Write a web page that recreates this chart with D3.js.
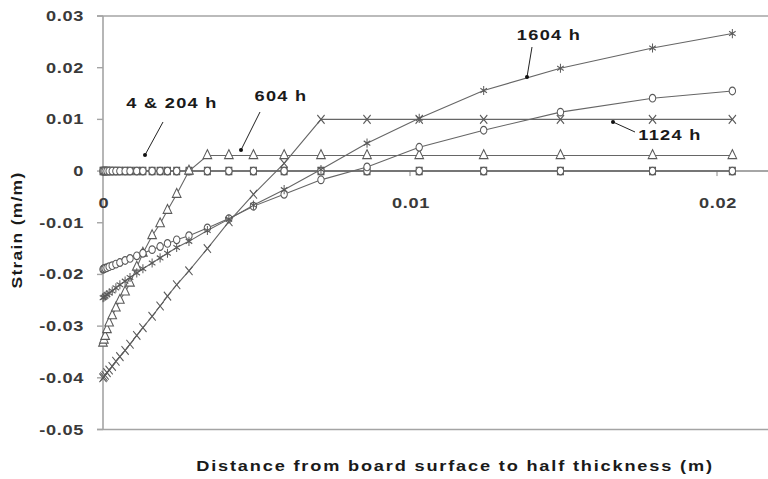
<!DOCTYPE html>
<html>
<head>
<meta charset="utf-8">
<script src="https://cdn.jsdelivr.net/npm/d3@7"></script>
<style>
  body { margin: 0; background: #fff; }
  svg { display: block; font-family: "Liberation Sans", Arial, sans-serif; }
</style>
</head>
<body>
<svg id="chart" width="768" height="479"></svg>
<script>
// mesh nodes, metres from the board surface
const distance = [0, 0.00003, 0.00007, 0.00013, 0.0002, 0.0003, 0.00042, 0.00055, 0.00072, 0.00088,
    0.0011, 0.0013, 0.0016, 0.00186, 0.0021, 0.0024, 0.0028, 0.0034, 0.0041, 0.0049,
    0.0059, 0.0071, 0.0086, 0.0103, 0.0124, 0.0149, 0.0179, 0.0205];

const strain4h = [0, 0, 0, 0, 0, 0, 0, 0, 0, 0, 0, 0, 0, 0, 0, 0, 0, 0, 0, 0, 0, 0, 0, 0, 0, 0, 0, 0];
const strain204h = [0, 0, 0, 0, 0, 0, 0, 0, 0, 0, 0, 0, 0, 0, 0, 0, 0, 0, 0, 0, 0, 0, 0, 0, 0, 0, 0, 0];
const strain604h = [-0.0333, -0.0327, -0.032, -0.0307, -0.0294, -0.028, -0.0265, -0.025, -0.0234, -0.0217,
    -0.0186, -0.0159, -0.0125, -0.0102, -0.0076, -0.0045, 0, 0.003, 0.003, 0.003,
    0.003, 0.003, 0.003, 0.003, 0.003, 0.003, 0.003, 0.003];
const strain1124h = [-0.04, -0.0398, -0.0395, -0.039, -0.0385, -0.0378, -0.0368, -0.0359, -0.0347, -0.0335,
    -0.0318, -0.0303, -0.0281, -0.0261, -0.0242, -0.022, -0.0193, -0.015, -0.0098, -0.0045,
    0.0015, 0.01, 0.01, 0.01, 0.01, 0.01, 0.01, 0.01];
const strain1604h = [-0.0245, -0.0244, -0.0242, -0.0239, -0.0236, -0.0232, -0.0226, -0.022, -0.0213, -0.0206,
    -0.0197, -0.0189, -0.0178, -0.0168, -0.0159, -0.0148, -0.0136, -0.0115, -0.0093, -0.0066,
    -0.0036, 0.0003, 0.0054, 0.0102, 0.0156, 0.0199, 0.0238, 0.0266];
// unlabelled series drawn with open circles
const strainLast = [-0.019, -0.0189, -0.0188, -0.0187, -0.0185, -0.0183, -0.018, -0.0177, -0.0173, -0.0169,
    -0.0164, -0.0159, -0.0152, -0.0146, -0.014, -0.0133, -0.0125, -0.011, -0.0092, -0.0068,
    -0.0045, -0.0017, 0.0008, 0.0046, 0.0079, 0.0114, 0.0141, 0.0155];

const xTickValues = [0, 0.01, 0.02];
const xTickLabels = ["0", "0.01", "0.02"];
const yTickValues = [0.03, 0.02, 0.01, 0, -0.01, -0.02, -0.03, -0.04, -0.05];
const yTickLabels = ["0.03", "0.02", "0.01", "0", "-0.01", "-0.02", "-0.03", "-0.04", "-0.05"];
const noteLabels = ["4 & 204 h", "604 h", "1124 h", "1604 h"];

const svg = d3.select("#chart");
const width = 768;

const x = d3.scaleLinear().domain([0, 0.02]).range([103, 717]);
const y = d3.scaleLinear().domain([-0.05, 0.03]).range([429.5, 16]);

const frame = "#a4a4a4";
const ink = "#5a5a5a";

// the original lettering is wide, so glyphs get stretched along the baseline
function addText(px, py, str, opts) {
    const o = Object.assign({ anchor: "middle", rotate: 0, sx: 1.3, spacing: 0.8, fill: "#1a1a1a" }, opts);
    return svg.append("text")
        .attr("transform", `translate(${px},${py}) rotate(${o.rotate}) scale(${o.sx},1)`)
        .attr("text-anchor", o.anchor)
        .attr("font-size", 14)
        .attr("font-weight", "bold")
        .attr("letter-spacing", o.spacing)
        .attr("fill", o.fill)
        .text(str);
}

// plot frame: top and bottom edges run off the right of the picture
[0.03, -0.05].forEach(v => {
    svg.append("line")
        .attr("x1", x(0) - 6).attr("x2", width)
        .attr("y1", y(v)).attr("y2", y(v))
        .attr("stroke", frame).attr("stroke-width", 1.6);
});
svg.append("line")
    .attr("x1", x(0)).attr("x2", x(0))
    .attr("y1", y(0.03)).attr("y2", y(-0.05))
    .attr("stroke", frame).attr("stroke-width", 1.6);
svg.append("line")
    .attr("x1", x(0)).attr("x2", width)
    .attr("y1", y(0)).attr("y2", y(0))
    .attr("stroke", "#888").attr("stroke-width", 1.4);

// y ticks
svg.selectAll(".ytick")
    .data(yTickValues)
    .join("line")
    .attr("x1", x(0) - 6).attr("x2", x(0))
    .attr("y1", d => y(d)).attr("y2", d => y(d))
    .attr("stroke", frame).attr("stroke-width", 1.4);

yTickValues.forEach((v, i) => {
    addText(84, y(v) + 5, yTickLabels[i], { anchor: "end", spacing: 0.5, fill: "#3a3a3a" });
});

// x ticks sit on the zero line
svg.selectAll(".xtick")
    .data(xTickValues)
    .join("line")
    .attr("x1", d => x(d)).attr("x2", d => x(d))
    .attr("y1", y(0)).attr("y2", y(0) + 5)
    .attr("stroke", "#888").attr("stroke-width", 1);

xTickValues.forEach((v, i) => {
    addText(x(v) + 1, y(0) + 37, xTickLabels[i], { spacing: 0.5, fill: "#3a3a3a" });
});

// series
const series = [
    { values: strain4h, symbol: d3.symbolSquare, size: 36 },
    { values: strain204h, symbol: d3.symbolCircle, size: 32 },
    { values: strain604h, symbol: d3.symbolTriangle, size: 32 },
    { values: strainLast, symbol: d3.symbolCircle, size: 32 },
    { values: strain1124h, symbol: d3.symbolTimes, size: 36 },
    { values: strain1604h, symbol: d3.symbolAsterisk, size: 40 }
];

const line = d3.line()
    .x((d, i) => x(distance[i]))
    .y(d => y(d));

series.forEach(s => {
    svg.append("path")
        .attr("d", line(s.values))
        .attr("fill", "none")
        .attr("stroke", "#666")
        .attr("stroke-width", 1.1);
});

series.forEach(s => {
    const sym = d3.symbol().type(s.symbol).size(s.size);
    const open = s.symbol === d3.symbolTimes || s.symbol === d3.symbolAsterisk;
    svg.append("g")
        .selectAll("path")
        .data(s.values)
        .join("path")
        .attr("transform", (d, i) => `translate(${x(distance[i])},${y(d)}) scale(1,1.2)`)
        .attr("d", sym)
        .attr("fill", "#fff")
        .attr("fill-opacity", open ? 0 : 1)
        .attr("stroke", ink)
        .attr("stroke-width", 1);
});

// call-outs
const notes = [
    { tx: 172, ty: 108, x1: 163, y1: 122, x2: 145, y2: 155 },
    { tx: 281, ty: 101, x1: 260, y1: 112, x2: 241, y2: 150 },
    { tx: 670, ty: 140, x1: 635, y1: 132, x2: 613, y2: 122 },
    { tx: 549, ty: 40, x1: 532, y1: 47, x2: 527, y2: 77 }
];

notes.forEach((n, i) => {
    svg.append("line")
        .attr("x1", n.x1).attr("y1", n.y1)
        .attr("x2", n.x2).attr("y2", n.y2)
        .attr("stroke", "#222").attr("stroke-width", 1);
    svg.append("circle")
        .attr("cx", n.x2).attr("cy", n.y2).attr("r", 2)
        .attr("fill", "#111");
    addText(n.tx, n.ty, noteLabels[i], { spacing: 1 });
});

// axis titles
addText(455, 471, "Distance from board surface to half thickness (m)", { spacing: 1.4 });
addText(22, 230, "Strain (m/m)", { rotate: -90, sx: 1.25, spacing: 1 });
</script>
</body>
</html>
